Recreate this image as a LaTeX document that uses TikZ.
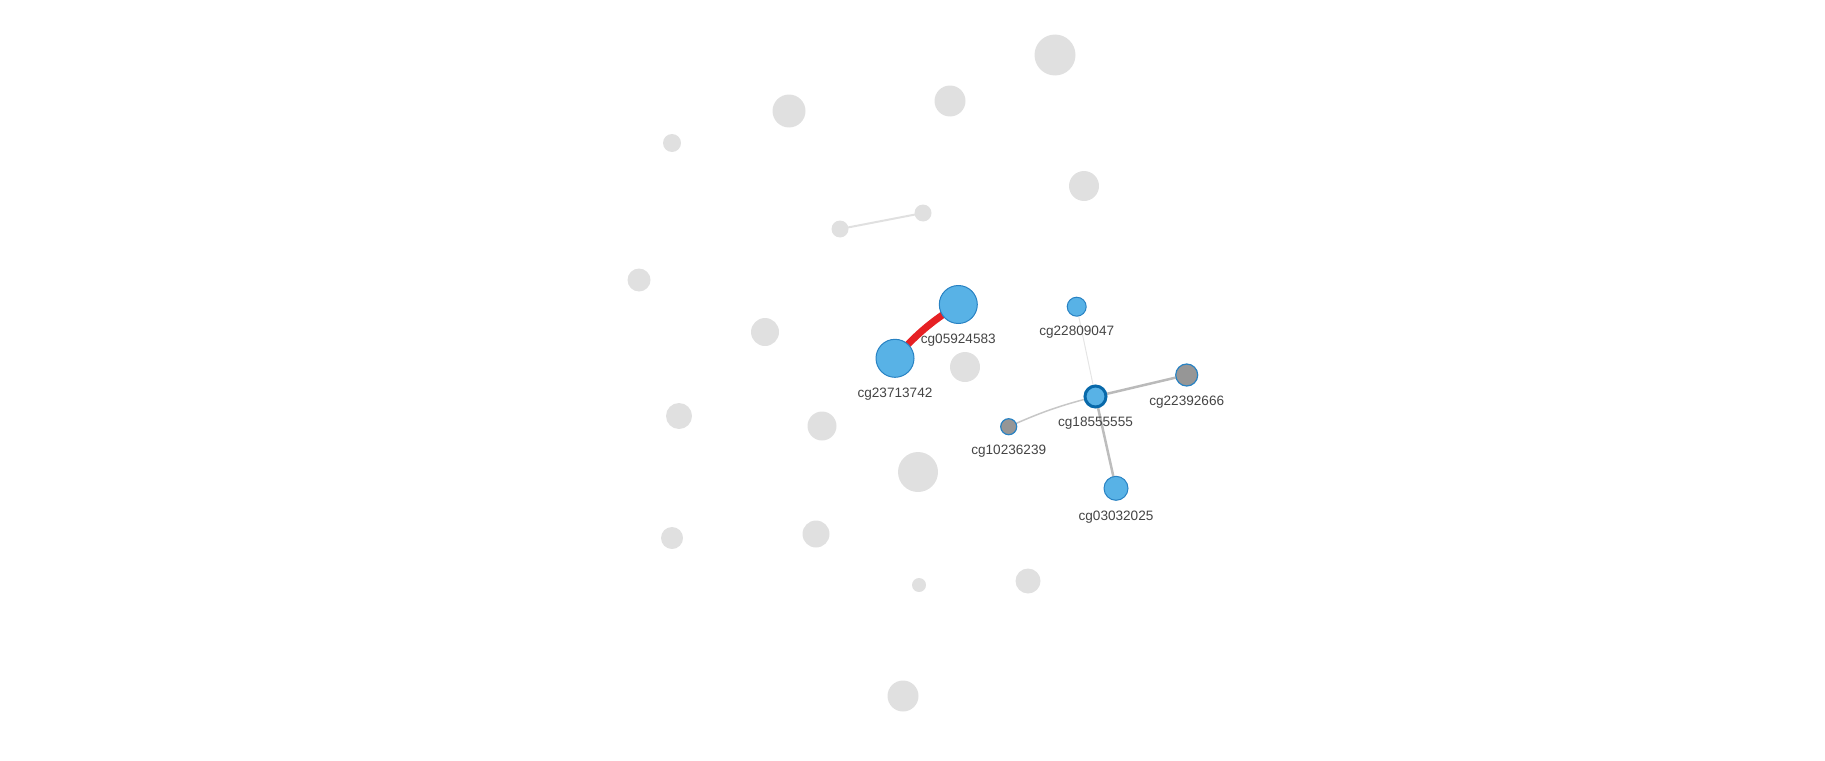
\documentclass[tikz,border=0pt]{standalone}
\usepackage{fontspec}
\setmainfont{Liberation Sans}
\usetikzlibrary{positioning,backgrounds}

\definecolor{faded}{RGB}{224,224,224}
\definecolor{hitfill}{RGB}{88,178,230}
\definecolor{hitline}{RGB}{40,130,195}
\definecolor{hubline}{RGB}{8,105,170}
\definecolor{missfill}{RGB}{150,150,150}
\definecolor{corred}{RGB}{230,32,36}
\definecolor{lbltext}{RGB}{68,68,68}

\begin{document}
\begin{tikzpicture}[x=1pt, y=-1pt,
    faint/.style  = {circle, fill=faded, inner sep=0pt},
    hit/.style    = {circle, fill=hitfill, draw=hitline, line width=1pt, inner sep=0pt},
    miss/.style   = {circle, fill=missfill, draw=hitline, line width=1.2pt, inner sep=0pt},
    hub/.style    = {circle, fill=hitfill, draw=hubline, line width=3pt, inner sep=0pt},
    lbl/.style    = {inner sep=0pt, text=lbltext, font=\fontsize{13.6}{16}\selectfont},
    link/.style   = {line cap=round}]
    \useasboundingbox (0,0) rectangle (1825,760);

    \node[faint, minimum size=41pt] (g1)  at (1055,55)  {};
    \node[faint, minimum size=33pt] (g2)  at (789,111)  {};
    \node[faint, minimum size=31pt] (g3)  at (950,101)  {};
    \node[faint, minimum size=18pt] (g4)  at (672,143)  {};
    \node[faint, minimum size=30pt] (g5)  at (1084,186) {};
    \node[faint, minimum size=17pt] (g6)  at (840,229)  {};
    \node[faint, minimum size=17pt] (g7)  at (923,213)  {};
    \node[faint, minimum size=23pt] (g8)  at (639,280)  {};
    \node[faint, minimum size=28pt] (g9)  at (765,332)  {};
    \node[faint, minimum size=30pt] (g10) at (965,367)  {};
    \node[faint, minimum size=26pt] (g11) at (679,416)  {};
    \node[faint, minimum size=29pt] (g12) at (822,426)  {};
    \node[faint, minimum size=40pt] (g13) at (918,472)  {};
    \node[faint, minimum size=22pt] (g14) at (672,538)  {};
    \node[faint, minimum size=27pt] (g15) at (816,534)  {};
    \node[faint, minimum size=14pt] (g16) at (919,585)  {};
    \node[faint, minimum size=25pt] (g17) at (1028,581) {};
    \node[faint, minimum size=31pt] (g18) at (903,696)  {};

    \draw[link, faded, line width=2pt] (g6.center) -- (g7.center);

    \node[hit,  minimum size=38pt] (cg05924583) at (958.3,304.5)  {};
    \node[hit,  minimum size=38pt] (cg23713742) at (895,358.3)    {};
    \node[hit,  minimum size=19pt] (cg22809047) at (1076.7,306.7) {};
    \node[miss, minimum size=22pt] (cg22392666) at (1186.7,375)   {};
    \node[miss, minimum size=16pt] (cg10236239) at (1008.7,426.7) {};
    \node[hit,  minimum size=24pt] (cg03032025) at (1116,488.3)   {};
    \node[hub,  minimum size=21pt] (cg18555555) at (1095.5,396.5) {};

    \begin{scope}[on background layer]
    \draw[link, corred, line width=7pt] (cg23713742.center) to[bend left=8] (cg05924583.center);
    \draw[link, black!10, line width=1pt]    (cg18555555.center) -- (cg22809047.center);
    \draw[link, black!27, line width=2.5pt]  (cg18555555.center) -- (cg22392666.center);
    \draw[link, black!26, line width=2.5pt]  (cg18555555.center) -- (cg03032025.center);
    \draw[link, black!22, line width=1.5pt]  (cg10236239.center) to[bend left=5] (cg18555555.center);
    \end{scope}

    \node[lbl, below=9.5pt of cg05924583] (l05924583) {cg05924583};
    \node[lbl, below=9.5pt of cg23713742] (l23713742) {cg23713742};
    \node[lbl, below=9.5pt of cg22809047] (l22809047) {cg22809047};
    \node[lbl, below=9.5pt of cg22392666] (l22392666) {cg22392666};
    \node[lbl, below=9.5pt of cg10236239] (l10236239) {cg10236239};
    \node[lbl, below=9.5pt of cg03032025] (l03032025) {cg03032025};
    \node[lbl, below=8pt of cg18555555]   (l18555555) {cg18555555};

\end{tikzpicture}
\end{document}
